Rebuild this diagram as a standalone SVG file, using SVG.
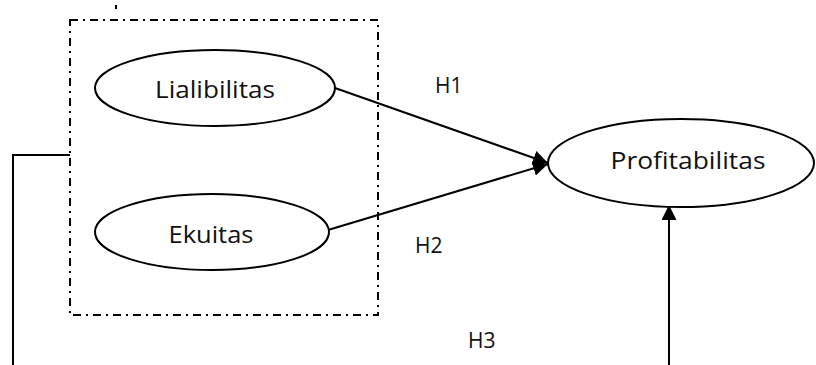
<svg xmlns="http://www.w3.org/2000/svg" width="816" height="365" viewBox="0 0 816 365">
  <style>
    .node { fill: #ffffff; stroke: #000000; stroke-width: 2; }
    .label { font-family: "Open Sans", "Liberation Sans", sans-serif; font-size: 24px; fill: #111111; text-anchor: middle; }
    .hyp { font-family: "Open Sans", "Liberation Sans", sans-serif; font-size: 21px; fill: #111111; }
    .edge { fill: none; stroke: #000000; stroke-width: 2; }
    .frame { fill: none; stroke: #000000; stroke-width: 2; stroke-dasharray: 8 5 2 5; }
  </style>
  <defs>
    <marker id="arrowBig" viewBox="0 0 10 10" refX="10" refY="5" markerWidth="15" markerHeight="15" markerUnits="userSpaceOnUse" orient="auto">
      <path d="M0,0 L10,5 L0,10 Z" fill="#000000"/>
    </marker>
  </defs>

  <!-- small tick mark at top -->
  <line x1="116" y1="5" x2="116" y2="9" stroke="#000" stroke-width="2"/>

  <!-- dash-dot frame grouping the independent variables -->
  <rect id="group-frame" class="frame" x="70" y="20" width="308" height="295"/>

  <g id="connectors">
    <line class="edge" x1="335" y1="88" x2="548" y2="163" marker-end="url(#arrowBig)"/>
    <line class="edge" x1="328" y1="230" x2="548" y2="164" marker-end="url(#arrowBig)"/>
    <polyline class="edge" points="70,155 13,155 13,365"/>
    <line class="edge" x1="669" y1="365" x2="669" y2="205" marker-end="url(#arrowBig)"/>
  </g>

  <g id="lialibilitas">
    <ellipse class="node" cx="215" cy="88" rx="120" ry="38"/>
    <text class="label" x="215" y="98" textLength="120" lengthAdjust="spacingAndGlyphs">Lialibilitas</text>
  </g>

  <g id="ekuitas">
    <ellipse class="node" cx="212" cy="232" rx="117" ry="38"/>
    <text class="label" x="211" y="243" textLength="85" lengthAdjust="spacingAndGlyphs">Ekuitas</text>
  </g>

  <g id="profitabilitas">
    <ellipse class="node" cx="681" cy="163" rx="133" ry="44"/>
    <text class="label" x="688" y="169" textLength="155" lengthAdjust="spacingAndGlyphs">Profitabilitas</text>
  </g>

  <g id="hypotheses">
    <text class="hyp" x="435" y="93">H1</text>
    <text class="hyp" x="415" y="253">H2</text>
    <text class="hyp" x="468" y="348">H3</text>
  </g>
</svg>
